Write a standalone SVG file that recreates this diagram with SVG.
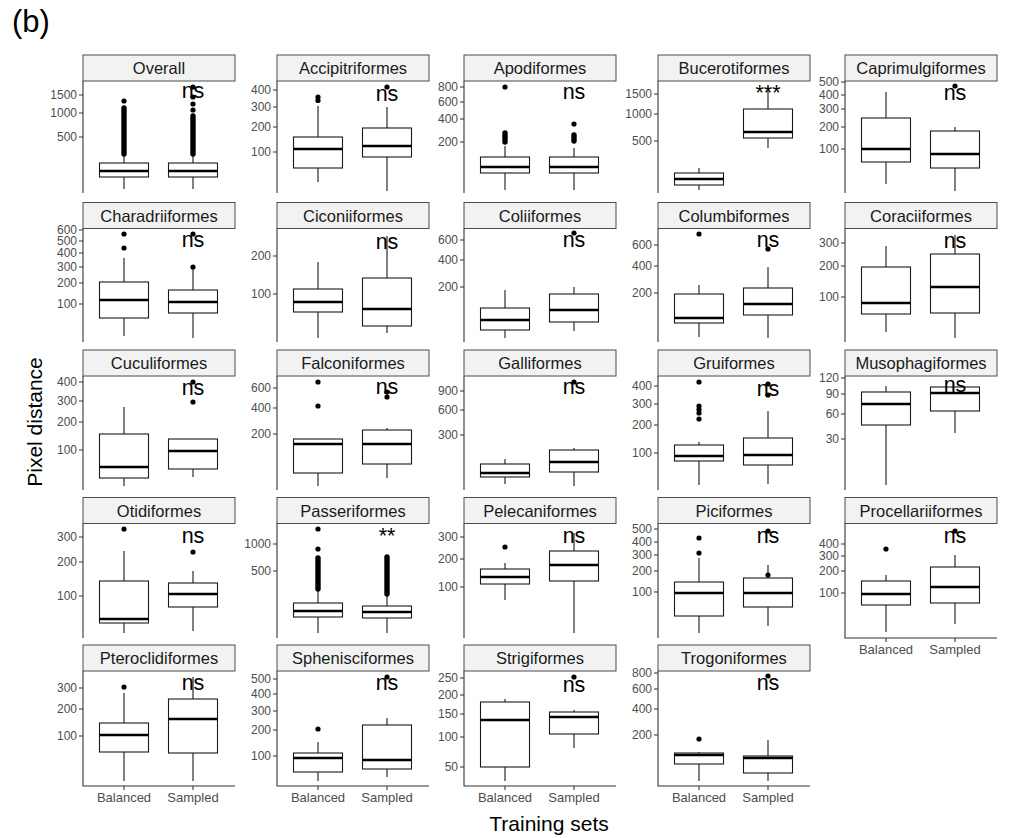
<svg xmlns="http://www.w3.org/2000/svg" width="1009" height="838" viewBox="0 0 1009 838">
<style>
.strip{fill:#f2f2f2;stroke:#4d4d4d;stroke-width:1}
.st{font-family:"Liberation Sans",Arial,sans-serif;font-size:16.5px;fill:#1a1a1a;text-anchor:middle}
.ax{stroke:#333;stroke-width:1.1;fill:none}
.tk{font-family:"Liberation Sans",Arial,sans-serif;font-size:12px;fill:#4d4d4d;text-anchor:end}
.xl{font-family:"Liberation Sans",Arial,sans-serif;font-size:13px;fill:#4d4d4d;text-anchor:middle}
.bx{fill:#fff;stroke:#1a1a1a;stroke-width:1.1}
.md{stroke:#000;stroke-width:2.3}
.wh{stroke:#1a1a1a;stroke-width:1.1;fill:none}
.o{fill:#000}
.dn{stroke:#000;stroke-width:5.4;stroke-linecap:round}
.sig{font-family:"Liberation Sans",Arial,sans-serif;font-size:21.5px;fill:#000;text-anchor:middle}
.ttl{font-family:"Liberation Sans",Arial,sans-serif;font-size:21px;fill:#000;text-anchor:middle}
</style>
<text x="12" y="32" font-family="Liberation Sans, Arial, sans-serif" font-size="31">(b)</text>
<text class="ttl" transform="translate(41.5,422) rotate(-90)">Pixel distance</text>
<text class="ttl" x="549" y="831">Training sets</text>

<g id="p-overall">
<rect class="strip" x="83" y="55" width="152" height="26"/><text class="st" x="159" y="74">Overall</text>
<path class="ax" d="M83 81V193M79 95H83M79 113H83M79 137H83"/>
<text class="tk" x="77" y="99.2">1500</text><text class="tk" x="77" y="117.2">1000</text><text class="tk" x="77" y="141.2">500</text>
<path class="wh" d="M124 155V163M124 177V189"/><rect class="bx" x="99.5" y="163" width="49" height="14"/><line class="md" x1="99.5" x2="148.5" y1="171" y2="171"/>
<circle class="o" cx="124" cy="101" r="2.6"/><line class="dn" x1="124" x2="124" y1="108" y2="154"/>
<path class="wh" d="M193 155V163M193 177V189"/><rect class="bx" x="168.5" y="163" width="49" height="14"/><line class="md" x1="168.5" x2="217.5" y1="171" y2="171"/>
<circle class="o" cx="193" cy="87" r="2.6"/><circle class="o" cx="193" cy="97" r="2.6"/><circle class="o" cx="193" cy="104" r="2.6"/><circle class="o" cx="193" cy="110" r="2.6"/><line class="dn" x1="193" x2="193" y1="116" y2="154"/>
<text class="sig" x="193" y="98">ns</text>
</g>

<g id="p-accipitriformes">
<rect class="strip" x="277" y="55" width="152" height="26"/><text class="st" x="353" y="74">Accipitriformes</text>
<path class="ax" d="M277 81V193M273 90H277M273 107H277M273 127H277M273 152H277"/>
<text class="tk" x="271" y="94.2">400</text><text class="tk" x="271" y="111.2">300</text><text class="tk" x="271" y="131.2">200</text><text class="tk" x="271" y="156.2">100</text>
<path class="wh" d="M318 106V137M318 168V182"/><rect class="bx" x="293.5" y="137" width="49" height="31"/><line class="md" x1="293.5" x2="342.5" y1="149" y2="149"/>
<circle class="o" cx="318" cy="97" r="2.6"/><circle class="o" cx="318" cy="100.5" r="2.6"/>
<path class="wh" d="M387 107V128M387 157V191"/><rect class="bx" x="362.5" y="128" width="49" height="29"/><line class="md" x1="362.5" x2="411.5" y1="146" y2="146"/>
<circle class="o" cx="387" cy="87" r="2.6"/>
<text class="sig" x="387" y="101">ns</text>
</g>

<g id="p-apodiformes">
<rect class="strip" x="464" y="55" width="152" height="26"/><text class="st" x="540" y="74">Apodiformes</text>
<path class="ax" d="M464 81V193M460 87H464M460 102H464M460 119H464M460 142H464"/>
<text class="tk" x="458" y="91.2">800</text><text class="tk" x="458" y="106.2">600</text><text class="tk" x="458" y="123.2">400</text><text class="tk" x="458" y="146.2">200</text>
<path class="wh" d="M505 146V157M505 173V190"/><rect class="bx" x="480.5" y="157" width="49" height="16"/><line class="md" x1="480.5" x2="529.5" y1="167" y2="167"/>
<circle class="o" cx="505" cy="87" r="2.6"/><line class="dn" x1="505" x2="505" y1="133" y2="142"/>
<path class="wh" d="M574 148V157M574 173V190"/><rect class="bx" x="549.5" y="157" width="49" height="16"/><line class="md" x1="549.5" x2="598.5" y1="167" y2="167"/>
<circle class="o" cx="574" cy="124" r="2.6"/><line class="dn" x1="574" x2="574" y1="135" y2="141"/>
<text class="sig" x="574" y="99">ns</text>
</g>

<g id="p-bucerotiformes">
<rect class="strip" x="658" y="55" width="152" height="26"/><text class="st" x="734" y="74">Bucerotiformes</text>
<path class="ax" d="M658 81V193M654 94H658M654 114H658M654 141H658"/>
<text class="tk" x="652" y="98.2">1500</text><text class="tk" x="652" y="118.2">1000</text><text class="tk" x="652" y="145.2">500</text>
<path class="wh" d="M699 168V173M699 185V190"/><rect class="bx" x="674.5" y="173" width="49" height="12"/><line class="md" x1="674.5" x2="723.5" y1="179" y2="179"/>
<path class="wh" d="M768 87V109M768 138V148"/><rect class="bx" x="743.5" y="109" width="49" height="29"/><line class="md" x1="743.5" x2="792.5" y1="132" y2="132"/>
<text class="sig" x="768" y="100">***</text>
</g>

<g id="p-caprimulgiformes">
<rect class="strip" x="845" y="55" width="152" height="26"/><text class="st" x="921" y="74">Caprimulgiformes</text>
<path class="ax" d="M845 81V193M841 82H845M841 95H845M841 109H845M841 127H845M841 149H845"/>
<text class="tk" x="839" y="86.2">500</text><text class="tk" x="839" y="99.2">400</text><text class="tk" x="839" y="113.2">300</text><text class="tk" x="839" y="131.2">200</text><text class="tk" x="839" y="153.2">100</text>
<path class="wh" d="M886 92V118M886 162V184"/><rect class="bx" x="861.5" y="118" width="49" height="44"/><line class="md" x1="861.5" x2="910.5" y1="149" y2="149"/>
<path class="wh" d="M955 127V131M955 168V191"/><rect class="bx" x="930.5" y="131" width="49" height="37"/><line class="md" x1="930.5" x2="979.5" y1="154" y2="154"/>
<circle class="o" cx="955" cy="86" r="2.6"/>
<text class="sig" x="955" y="100">ns</text>
</g>

<g id="p-charadriiformes">
<rect class="strip" x="83" y="202.5" width="152" height="26"/><text class="st" x="159" y="221.5">Charadriiformes</text>
<path class="ax" d="M83 228.5V342M79 230H83M79 241H83M79 253H83M79 267H83M79 283H83M79 304H83"/>
<text class="tk" x="77" y="234.2">600</text><text class="tk" x="77" y="245.2">500</text><text class="tk" x="77" y="257.2">400</text><text class="tk" x="77" y="271.2">300</text><text class="tk" x="77" y="287.2">200</text><text class="tk" x="77" y="308.2">100</text>
<path class="wh" d="M124 258V282M124 318V336"/><rect class="bx" x="99.5" y="282" width="49" height="36"/><line class="md" x1="99.5" x2="148.5" y1="300" y2="300"/>
<circle class="o" cx="124" cy="234" r="2.6"/><circle class="o" cx="124" cy="248" r="2.6"/>
<path class="wh" d="M193 269V290M193 313V338"/><rect class="bx" x="168.5" y="290" width="49" height="23"/><line class="md" x1="168.5" x2="217.5" y1="302" y2="302"/>
<circle class="o" cx="193" cy="234" r="2.6"/><circle class="o" cx="193" cy="267" r="2.6"/>
<text class="sig" x="193" y="247">ns</text>
</g>

<g id="p-ciconiiformes">
<rect class="strip" x="277" y="202.5" width="152" height="26"/><text class="st" x="353" y="221.5">Ciconiiformes</text>
<path class="ax" d="M277 228.5V342M273 256H277M273 294H277"/>
<text class="tk" x="271" y="260.2">200</text><text class="tk" x="271" y="298.2">100</text>
<path class="wh" d="M318 262V289M318 312V338"/><rect class="bx" x="293.5" y="289" width="49" height="23"/><line class="md" x1="293.5" x2="342.5" y1="302" y2="302"/>
<path class="wh" d="M387 236V278M387 326V333"/><rect class="bx" x="362.5" y="278" width="49" height="48"/><line class="md" x1="362.5" x2="411.5" y1="309" y2="309"/>
<text class="sig" x="387" y="249">ns</text>
</g>

<g id="p-coliiformes">
<rect class="strip" x="464" y="202.5" width="152" height="26"/><text class="st" x="540" y="221.5">Coliiformes</text>
<path class="ax" d="M464 228.5V342M460 240H464M460 260H464M460 287H464"/>
<text class="tk" x="458" y="244.2">600</text><text class="tk" x="458" y="264.2">400</text><text class="tk" x="458" y="291.2">200</text>
<path class="wh" d="M505 290V308M505 330V338"/><rect class="bx" x="480.5" y="308" width="49" height="22"/><line class="md" x1="480.5" x2="529.5" y1="320" y2="320"/>
<path class="wh" d="M574 287V294M574 322V331"/><rect class="bx" x="549.5" y="294" width="49" height="28"/><line class="md" x1="549.5" x2="598.5" y1="310" y2="310"/>
<circle class="o" cx="574" cy="233" r="2.6"/>
<text class="sig" x="574" y="247">ns</text>
</g>

<g id="p-columbiformes">
<rect class="strip" x="658" y="202.5" width="152" height="26"/><text class="st" x="734" y="221.5">Columbiformes</text>
<path class="ax" d="M658 228.5V342M654 245H658M654 266H658M654 293H658"/>
<text class="tk" x="652" y="249.2">600</text><text class="tk" x="652" y="270.2">400</text><text class="tk" x="652" y="297.2">200</text>
<path class="wh" d="M699 285V294M699 323V337"/><rect class="bx" x="674.5" y="294" width="49" height="29"/><line class="md" x1="674.5" x2="723.5" y1="318" y2="318"/>
<circle class="o" cx="699" cy="234" r="2.6"/>
<path class="wh" d="M768 267V288M768 315V338"/><rect class="bx" x="743.5" y="288" width="49" height="27"/><line class="md" x1="743.5" x2="792.5" y1="304" y2="304"/>
<circle class="o" cx="768" cy="249" r="2.6"/>
<text class="sig" x="768" y="247">ns</text>
</g>

<g id="p-coraciiformes">
<rect class="strip" x="845" y="202.5" width="152" height="26"/><text class="st" x="921" y="221.5">Coraciiformes</text>
<path class="ax" d="M845 228.5V342M841 243H845M841 266H845M841 297H845"/>
<text class="tk" x="839" y="247.2">300</text><text class="tk" x="839" y="270.2">200</text><text class="tk" x="839" y="301.2">100</text>
<path class="wh" d="M886 246V267M886 314V332"/><rect class="bx" x="861.5" y="267" width="49" height="47"/><line class="md" x1="861.5" x2="910.5" y1="303" y2="303"/>
<path class="wh" d="M955 235V254M955 313V338"/><rect class="bx" x="930.5" y="254" width="49" height="59"/><line class="md" x1="930.5" x2="979.5" y1="287" y2="287"/>
<text class="sig" x="955" y="248">ns</text>
</g>

<g id="p-cuculiformes">
<rect class="strip" x="83" y="350" width="152" height="26"/><text class="st" x="159" y="369">Cuculiformes</text>
<path class="ax" d="M83 376V490M79 382H83M79 401H83M79 422H83M79 450H83"/>
<text class="tk" x="77" y="386.2">400</text><text class="tk" x="77" y="405.2">300</text><text class="tk" x="77" y="426.2">200</text><text class="tk" x="77" y="454.2">100</text>
<path class="wh" d="M124 407V434M124 478V486"/><rect class="bx" x="99.5" y="434" width="49" height="44"/><line class="md" x1="99.5" x2="148.5" y1="467" y2="467"/>
<path class="wh" d="M193 469V477"/><rect class="bx" x="168.5" y="439" width="49" height="30"/><line class="md" x1="168.5" x2="217.5" y1="451" y2="451"/>
<circle class="o" cx="193" cy="382" r="2.6"/><circle class="o" cx="193" cy="402" r="2.6"/>
<text class="sig" x="193" y="395">ns</text>
</g>

<g id="p-falconiformes">
<rect class="strip" x="277" y="350" width="152" height="26"/><text class="st" x="353" y="369">Falconiformes</text>
<path class="ax" d="M277 376V490M273 388H277M273 408H277M273 434H277"/>
<text class="tk" x="271" y="392.2">600</text><text class="tk" x="271" y="412.2">400</text><text class="tk" x="271" y="438.2">200</text>
<path class="wh" d="M318 473V486"/><rect class="bx" x="293.5" y="439" width="49" height="34"/><line class="md" x1="293.5" x2="342.5" y1="444" y2="444"/>
<circle class="o" cx="318" cy="382" r="2.6"/><circle class="o" cx="318" cy="406" r="2.6"/>
<path class="wh" d="M387 428V430M387 464V478"/><rect class="bx" x="362.5" y="430" width="49" height="34"/><line class="md" x1="362.5" x2="411.5" y1="444" y2="444"/>
<circle class="o" cx="387" cy="392" r="2.6"/><circle class="o" cx="387" cy="397" r="2.6"/>
<text class="sig" x="387" y="394">ns</text>
</g>

<g id="p-galliformes">
<rect class="strip" x="464" y="350" width="152" height="26"/><text class="st" x="540" y="369">Galliformes</text>
<path class="ax" d="M464 376V490M460 391H464M460 410H464M460 435H464"/>
<text class="tk" x="458" y="395.2">900</text><text class="tk" x="458" y="414.2">600</text><text class="tk" x="458" y="439.2">300</text>
<path class="wh" d="M505 459V464M505 477V484"/><rect class="bx" x="480.5" y="464" width="49" height="13"/><line class="md" x1="480.5" x2="529.5" y1="473" y2="473"/>
<path class="wh" d="M574 448V450M574 472V486"/><rect class="bx" x="549.5" y="450" width="49" height="22"/><line class="md" x1="549.5" x2="598.5" y1="462" y2="462"/>
<circle class="o" cx="574" cy="382" r="2.6"/>
<text class="sig" x="574" y="394">ns</text>
</g>

<g id="p-gruiformes">
<rect class="strip" x="658" y="350" width="152" height="26"/><text class="st" x="734" y="369">Gruiformes</text>
<path class="ax" d="M658 376V490M654 386H658M654 404H658M654 425H658M654 453H658"/>
<text class="tk" x="652" y="390.2">400</text><text class="tk" x="652" y="408.2">300</text><text class="tk" x="652" y="429.2">200</text><text class="tk" x="652" y="457.2">100</text>
<path class="wh" d="M699 442V445M699 461V485"/><rect class="bx" x="674.5" y="445" width="49" height="16"/><line class="md" x1="674.5" x2="723.5" y1="456" y2="456"/>
<circle class="o" cx="699" cy="382" r="2.6"/><circle class="o" cx="699" cy="406" r="2.6"/><circle class="o" cx="699" cy="409.5" r="2.6"/><circle class="o" cx="699" cy="413" r="2.6"/><circle class="o" cx="699" cy="419" r="2.6"/>
<path class="wh" d="M768 411V438M768 465V484"/><rect class="bx" x="743.5" y="438" width="49" height="27"/><line class="md" x1="743.5" x2="792.5" y1="455" y2="455"/>
<circle class="o" cx="768" cy="384" r="2.6"/><circle class="o" cx="768" cy="395" r="2.6"/>
<text class="sig" x="768" y="396">ns</text>
</g>

<g id="p-musophagiformes">
<rect class="strip" x="845" y="350" width="152" height="26"/><text class="st" x="921" y="369">Musophagiformes</text>
<path class="ax" d="M845 376V490M841 378H845M841 394H845M841 414H845M841 439H845"/>
<text class="tk" x="839" y="382.2">120</text><text class="tk" x="839" y="398.2">90</text><text class="tk" x="839" y="418.2">60</text><text class="tk" x="839" y="443.2">30</text>
<path class="wh" d="M886 386V392M886 425V485"/><rect class="bx" x="861.5" y="392" width="49" height="33"/><line class="md" x1="861.5" x2="910.5" y1="404" y2="404"/>
<path class="wh" d="M955 411V433"/><rect class="bx" x="930.5" y="387" width="49" height="24"/><line class="md" x1="930.5" x2="979.5" y1="393" y2="393"/>
<text class="sig" x="955" y="392">ns</text>
</g>

<g id="p-otidiformes">
<rect class="strip" x="83" y="497.5" width="152" height="26"/><text class="st" x="159" y="516.5">Otidiformes</text>
<path class="ax" d="M83 523.5V638M79 537H83M79 562H83M79 596H83"/>
<text class="tk" x="77" y="541.2">300</text><text class="tk" x="77" y="566.2">200</text><text class="tk" x="77" y="600.2">100</text>
<path class="wh" d="M124 551V581M124 623V633"/><rect class="bx" x="99.5" y="581" width="49" height="42"/><line class="md" x1="99.5" x2="148.5" y1="619" y2="619"/>
<circle class="o" cx="124" cy="529" r="2.6"/>
<path class="wh" d="M193 571V583M193 607V631"/><rect class="bx" x="168.5" y="583" width="49" height="24"/><line class="md" x1="168.5" x2="217.5" y1="594" y2="594"/>
<circle class="o" cx="193" cy="552" r="2.6"/>
<text class="sig" x="193" y="543">ns</text>
</g>

<g id="p-passeriformes">
<rect class="strip" x="277" y="497.5" width="152" height="26"/><text class="st" x="353" y="516.5">Passeriformes</text>
<path class="ax" d="M277 523.5V638M273 544H277M273 571H277"/>
<text class="tk" x="271" y="548.2">1000</text><text class="tk" x="271" y="575.2">500</text>
<path class="wh" d="M318 590V603M318 617V633"/><rect class="bx" x="293.5" y="603" width="49" height="14"/><line class="md" x1="293.5" x2="342.5" y1="611" y2="611"/>
<circle class="o" cx="318" cy="529" r="2.6"/><circle class="o" cx="318" cy="549" r="2.6"/><line class="dn" x1="318" x2="318" y1="558" y2="589"/>
<path class="wh" d="M387 594V606M387 618V633"/><rect class="bx" x="362.5" y="606" width="49" height="12"/><line class="md" x1="362.5" x2="411.5" y1="612" y2="612"/>
<line class="dn" x1="387" x2="387" y1="557" y2="594"/>
<text class="sig" x="387" y="543">**</text>
</g>

<g id="p-pelecaniformes">
<rect class="strip" x="464" y="497.5" width="152" height="26"/><text class="st" x="540" y="516.5">Pelecaniformes</text>
<path class="ax" d="M464 523.5V638M460 537H464M460 559H464M460 587H464"/>
<text class="tk" x="458" y="541.2">300</text><text class="tk" x="458" y="563.2">200</text><text class="tk" x="458" y="591.2">100</text>
<path class="wh" d="M505 563V569M505 584V600"/><rect class="bx" x="480.5" y="569" width="49" height="15"/><line class="md" x1="480.5" x2="529.5" y1="577" y2="577"/>
<circle class="o" cx="505" cy="547" r="2.6"/>
<path class="wh" d="M574 533V551M574 581V633"/><rect class="bx" x="549.5" y="551" width="49" height="30"/><line class="md" x1="549.5" x2="598.5" y1="565" y2="565"/>
<text class="sig" x="574" y="543">ns</text>
</g>

<g id="p-piciformes">
<rect class="strip" x="658" y="497.5" width="152" height="26"/><text class="st" x="734" y="516.5">Piciformes</text>
<path class="ax" d="M658 523.5V638M654 529H658M654 542H658M654 555H658M654 571H658M654 592H658"/>
<text class="tk" x="652" y="533.2">500</text><text class="tk" x="652" y="546.2">400</text><text class="tk" x="652" y="559.2">300</text><text class="tk" x="652" y="575.2">200</text><text class="tk" x="652" y="596.2">100</text>
<path class="wh" d="M699 558V582M699 616V633"/><rect class="bx" x="674.5" y="582" width="49" height="34"/><line class="md" x1="674.5" x2="723.5" y1="593" y2="593"/>
<circle class="o" cx="699" cy="538" r="2.6"/><circle class="o" cx="699" cy="553" r="2.6"/>
<path class="wh" d="M768 565V578M768 607V626"/><rect class="bx" x="743.5" y="578" width="49" height="29"/><line class="md" x1="743.5" x2="792.5" y1="593" y2="593"/>
<circle class="o" cx="768" cy="531" r="2.6"/><circle class="o" cx="768" cy="575" r="2.6"/>
<text class="sig" x="768" y="543">ns</text>
</g>

<g id="p-procellariiformes">
<rect class="strip" x="845" y="497.5" width="152" height="26"/><text class="st" x="921" y="516.5">Procellariiformes</text>
<path class="ax" d="M845 523.5V638H997M841 544H845M841 556H845M841 571H845M841 593H845M886 638V642M955 638V642"/>
<text class="tk" x="839" y="548.2">400</text><text class="tk" x="839" y="560.2">300</text><text class="tk" x="839" y="575.2">200</text><text class="tk" x="839" y="597.2">100</text>
<path class="wh" d="M886 575V581M886 605V632"/><rect class="bx" x="861.5" y="581" width="49" height="24"/><line class="md" x1="861.5" x2="910.5" y1="594" y2="594"/>
<circle class="o" cx="886" cy="549" r="2.6"/>
<path class="wh" d="M955 555V567M955 603V624"/><rect class="bx" x="930.5" y="567" width="49" height="36"/><line class="md" x1="930.5" x2="979.5" y1="587" y2="587"/>
<circle class="o" cx="955" cy="531" r="2.6"/>
<text class="sig" x="955" y="543">ns</text>
<text class="xl" x="886" y="654">Balanced</text><text class="xl" x="955" y="654">Sampled</text>
</g>

<g id="p-pteroclidiformes">
<rect class="strip" x="83" y="645" width="152" height="26"/><text class="st" x="159" y="664">Pteroclidiformes</text>
<path class="ax" d="M83 671V786H235M79 688H83M79 709H83M79 736H83M124 786V790M193 786V790"/>
<text class="tk" x="77" y="692.2">300</text><text class="tk" x="77" y="713.2">200</text><text class="tk" x="77" y="740.2">100</text>
<path class="wh" d="M124 693V723M124 752V781"/><rect class="bx" x="99.5" y="723" width="49" height="29"/><line class="md" x1="99.5" x2="148.5" y1="735" y2="735"/>
<circle class="o" cx="124" cy="687" r="2.6"/>
<path class="wh" d="M193 677V699M193 753V781"/><rect class="bx" x="168.5" y="699" width="49" height="54"/><line class="md" x1="168.5" x2="217.5" y1="719" y2="719"/>
<text class="sig" x="193" y="690">ns</text>
<text class="xl" x="124" y="802">Balanced</text><text class="xl" x="193" y="802">Sampled</text>
</g>

<g id="p-sphenisciformes">
<rect class="strip" x="277" y="645" width="152" height="26"/><text class="st" x="353" y="664">Sphenisciformes</text>
<path class="ax" d="M277 671V786H429M273 679H277M273 694H277M273 711H277M273 730H277M273 756H277M318 786V790M387 786V790"/>
<text class="tk" x="271" y="683.2">500</text><text class="tk" x="271" y="698.2">400</text><text class="tk" x="271" y="715.2">300</text><text class="tk" x="271" y="734.2">200</text><text class="tk" x="271" y="760.2">100</text>
<path class="wh" d="M318 742V753M318 772V781"/><rect class="bx" x="293.5" y="753" width="49" height="19"/><line class="md" x1="293.5" x2="342.5" y1="758" y2="758"/>
<circle class="o" cx="318" cy="729" r="2.6"/>
<path class="wh" d="M387 718V725M387 769V777"/><rect class="bx" x="362.5" y="725" width="49" height="44"/><line class="md" x1="362.5" x2="411.5" y1="760" y2="760"/>
<circle class="o" cx="387" cy="677" r="2.6"/>
<text class="sig" x="387" y="690">ns</text>
<text class="xl" x="318" y="802">Balanced</text><text class="xl" x="387" y="802">Sampled</text>
</g>

<g id="p-strigiformes">
<rect class="strip" x="464" y="645" width="152" height="26"/><text class="st" x="540" y="664">Strigiformes</text>
<path class="ax" d="M464 671V786H616M460 678H464M460 695H464M460 714H464M460 737H464M460 767H464M505 786V790M574 786V790"/>
<text class="tk" x="458" y="682.2">250</text><text class="tk" x="458" y="699.2">200</text><text class="tk" x="458" y="718.2">150</text><text class="tk" x="458" y="741.2">100</text><text class="tk" x="458" y="771.2">50</text>
<path class="wh" d="M505 699V702M505 767V781"/><rect class="bx" x="480.5" y="702" width="49" height="65"/><line class="md" x1="480.5" x2="529.5" y1="720" y2="720"/>
<path class="wh" d="M574 710V712M574 734V748"/><rect class="bx" x="549.5" y="712" width="49" height="22"/><line class="md" x1="549.5" x2="598.5" y1="717" y2="717"/>
<circle class="o" cx="574" cy="677" r="2.6"/>
<text class="sig" x="574" y="692">ns</text>
<text class="xl" x="505" y="802">Balanced</text><text class="xl" x="574" y="802">Sampled</text>
</g>

<g id="p-trogoniformes">
<rect class="strip" x="658" y="645" width="152" height="26"/><text class="st" x="734" y="664">Trogoniformes</text>
<path class="ax" d="M658 671V786H810M654 673H658M654 689H658M654 709H658M654 735H658M699 786V790M768 786V790"/>
<text class="tk" x="652" y="677.2">800</text><text class="tk" x="652" y="693.2">600</text><text class="tk" x="652" y="713.2">400</text><text class="tk" x="652" y="739.2">200</text>
<path class="wh" d="M699 752V753M699 764V781"/><rect class="bx" x="674.5" y="753" width="49" height="11"/><line class="md" x1="674.5" x2="723.5" y1="755" y2="755"/>
<circle class="o" cx="699" cy="739" r="2.6"/>
<path class="wh" d="M768 740V756M768 773V781"/><rect class="bx" x="743.5" y="756" width="49" height="17"/><line class="md" x1="743.5" x2="792.5" y1="758" y2="758"/>
<circle class="o" cx="768" cy="676" r="2.6"/>
<text class="sig" x="768" y="690">ns</text>
<text class="xl" x="699" y="802">Balanced</text><text class="xl" x="768" y="802">Sampled</text>
</g>
</svg>
